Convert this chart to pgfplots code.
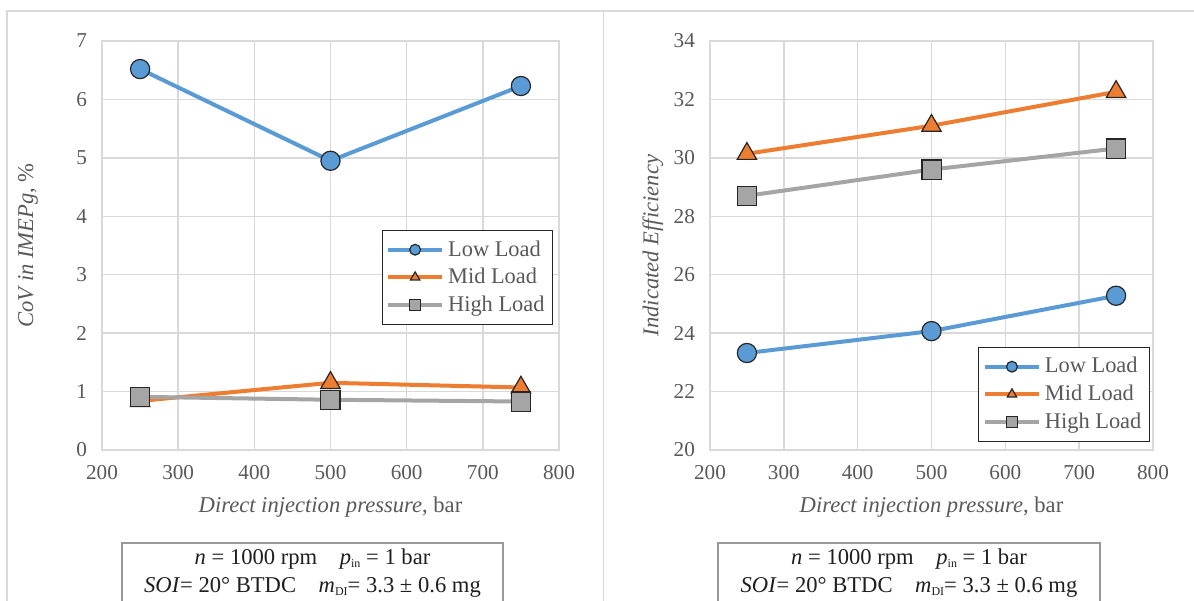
\documentclass[border=0pt]{standalone}
\usepackage{pgfplots}
\pgfplotsset{compat=1.18}
\usepackage{fontspec}
\setmainfont{Liberation Serif}
\definecolor{cblue}{HTML}{5B9BD5}
\definecolor{corange}{HTML}{ED7D31}
\definecolor{cgray}{HTML}{A5A5A5}
\definecolor{gridc}{HTML}{D9D9D9}
\definecolor{labc}{HTML}{595959}
\definecolor{mk}{HTML}{262626}
\newcommand{\sub}[1]{\raisebox{-1.7pt}{\fontsize{6}{7}\selectfont #1}}
\pgfplotsset{
  panel/.style={
    scale only axis, anchor=south west,
    xmin=200, xmax=800, xtick={200,300,...,800},
    grid=major,
    major grid style={gridc, line width=0.75pt},
    axis line style={gridc, line width=0.75pt},
    major tick length=0pt,
    tick label style={font=\fontsize{10.6}{12}\selectfont, text=labc},
    /pgf/number format/assume math mode=true,
    yticklabel style={xshift=-4pt},
    xticklabel style={yshift=-4pt},
    label style={font=\fontsize{11.3}{13}\selectfont, text=labc},
    xlabel={\textit{Direct injection pressure}, bar},
    legend cell align=left,
    legend style={draw=mk, line width=0.5pt, font=\fontsize{11.2}{13}\selectfont, text=labc,
      inner xsep=2pt, inner ysep=3pt, row sep=0.5pt, fill=white},
    legend image code/.code={
      \draw[#1, mark size=2.7pt, mark repeat=2, mark phase=2] plot coordinates {(0pt,0pt) (13.5pt,0pt) (27pt,0pt)};
    },
  },
  lo/.style={cblue, line width=2pt, mark=*, mark size=4.8pt, mark options={solid, draw=mk, fill=cblue, line width=0.6pt}},
  mi/.style={corange, line width=2pt, mark=triangle*, mark size=5.6pt, mark options={solid, draw=mk, fill=corange, line width=0.6pt}},
  hi/.style={cgray, line width=2pt, mark=square*, mark size=4.8pt, mark options={solid, draw=mk, fill=cgray, line width=0.6pt}},
}
\begin{document}
\begin{tikzpicture}[x=1pt,y=1pt]
\useasboundingbox (0,0) rectangle (597,300);
\draw[gridc, line width=0.6pt] (3.5,-5) -- (3.5,294.5) -- (600,294.5);
\draw[gridc, line width=0.6pt] (301.8,-5) -- (301.8,294.5);

\begin{axis}[panel, at={(51pt,75pt)}, width=228.5pt, height=204.5pt,
  ymin=0, ymax=7, ytick={0,1,...,7},
  ylabel={\textit{CoV in IMEPg}, \%},
  ylabel style={at={(axis description cs:-0.162,0.5)}, anchor=center},
  xlabel style={at={(axis description cs:0.5,-0.139)}, anchor=center},
  legend style={at={(axis description cs:0.987,0.538)}, anchor=north east},
]
\addplot[lo] coordinates {(250,6.52) (500,4.95) (750,6.23)};
\addlegendentry{Low Load}
\addplot[mi] coordinates {(250,0.84) (500,1.15) (750,1.07)};
\addlegendentry{Mid Load}
\addplot[hi] coordinates {(250,0.91) (500,0.86) (750,0.83)};
\addlegendentry{High Load}
\end{axis}

\begin{axis}[panel, at={(355pt,75pt)}, width=221.5pt, height=204.5pt,
  ymin=20, ymax=34, ytick={20,22,...,34},
  ylabel={\textit{Indicated Efficiency}},
  ylabel style={at={(axis description cs:-0.129,0.5)}, anchor=center},
  xlabel style={at={(axis description cs:0.5,-0.139)}, anchor=center},
  legend style={at={(axis description cs:0.993,0.252)}, anchor=north east},
]
\addplot[lo] coordinates {(250,23.32) (500,24.07) (750,25.28)};
\addlegendentry{Low Load}
\addplot[mi] coordinates {(250,30.14) (500,31.10) (750,32.26)};
\addlegendentry{Mid Load}
\addplot[hi] coordinates {(250,28.70) (500,29.60) (750,30.32)};
\addlegendentry{High Load}
\end{axis}

\foreach \cx/\lx/\rx in {156.25/61/251.5, 454.5/359/550} {
  \draw[black!40, line width=0.6pt] (\lx,28.5) rectangle (\rx,-3);
  \node[font=\fontsize{11.3}{13}\selectfont, text=black!88, anchor=base] at (\cx,18.0)
    {\textit{n} = 1000 rpm\hspace{1em}\textit{p}\sub{in} = 1 bar};
  \node[font=\fontsize{11.3}{13}\selectfont, text=black!88, anchor=base] at (\cx,4.0)
    {\textit{SOI}= 20° BTDC\hspace{1em}\textit{m}\sub{DI}= 3.3 ± 0.6 mg};
}
\end{tikzpicture}
\end{document}
